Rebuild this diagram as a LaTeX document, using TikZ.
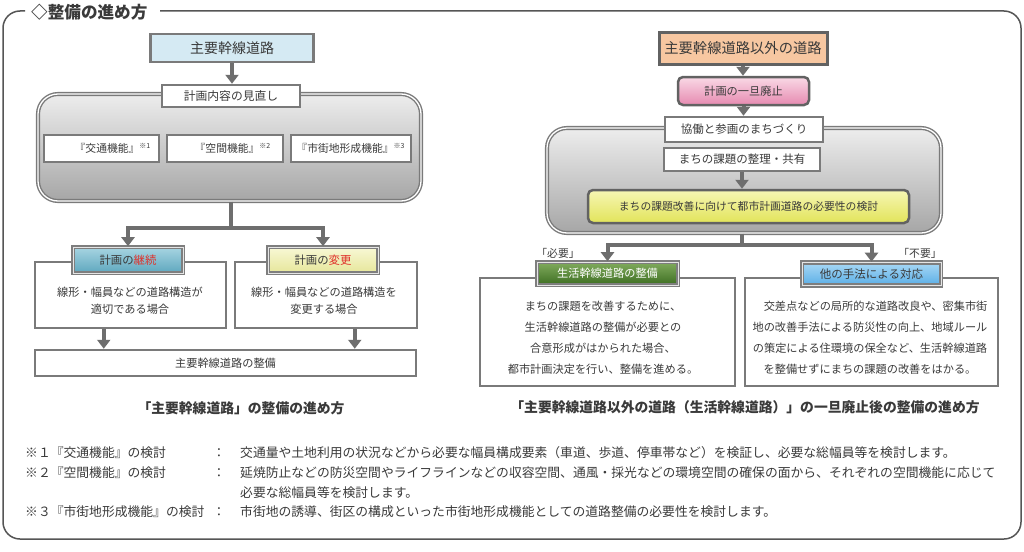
\documentclass[tikz,border=0pt]{standalone}
\usepackage{fontspec}
\setmainfont{Noto Sans CJK JP}
\usetikzlibrary{arrows.meta,calc}
\definecolor{bgray}{HTML}{7A7A7A}
\definecolor{dgray}{HTML}{626262}
\definecolor{cgray}{HTML}{6E6E6E}
\definecolor{lgray}{HTML}{7E7E7E}
\definecolor{txt}{HTML}{3A3A3A}
\definecolor{framec}{HTML}{555555}
\definecolor{lblue}{HTML}{D5EAF3}
\definecolor{orng}{HTML}{F7C7A1}
\definecolor{pkA}{HTML}{F9D9E6}
\definecolor{pkB}{HTML}{E68AB0}
\definecolor{ylA}{HTML}{F6F6B4}
\definecolor{ylB}{HTML}{E2E45A}
\definecolor{lcA}{HTML}{A8D5E2}
\definecolor{lcB}{HTML}{5EA7BE}
\definecolor{lhA}{HTML}{F8F8D6}
\definecolor{lhB}{HTML}{E6E69A}
\definecolor{grA}{HTML}{82AC5E}
\definecolor{grB}{HTML}{3D6E22}
\definecolor{blA}{HTML}{A8D8F5}
\definecolor{blB}{HTML}{5AAEE6}
\definecolor{gbA}{HTML}{EDEDED}
\definecolor{gbM}{HTML}{D6D6D6}
\definecolor{gbB}{HTML}{A6A6A6}
\definecolor{accent}{HTML}{E0302A}
\newcommand{\fsz}[1]{\fontsize{#1}{#1}\selectfont}
\newcommand{\fszb}[2]{\fontsize{#1}{#2}\selectfont}
\tikzset{
  conn/.style={draw=cgray, line width=4pt},
  arr/.style={conn, -{Triangle[width=13pt,length=9pt]}},
  wbox/.style={draw=bgray, line width=2.5pt, fill=white, inner sep=0pt},
  bigbox/.style={draw=bgray, line width=1.4pt, double=white, double distance=1.3pt,
    rounded corners=20pt, top color=gbA, middle color=gbM, bottom color=gbB, inner sep=0pt},
  lbl/.style={draw=lgray, line width=1.6pt, double=white!80!gray, double distance=1pt, inner sep=0pt},
  framel/.style={draw=framec, line width=1.5pt, rounded corners=17pt},
  every node/.style={text=txt, inner sep=0pt}
}
\begin{document}
\begin{tikzpicture}[x=1pt,y=-1pt]
\useasboundingbox (0,0) rectangle (1024,551);
\fill[white] (0,0) rectangle (1024,551);
% frame
\draw[framel] (25,11) -- (3,11) -- (3,539) -- (1021,539) -- (1021,11) -- (160,11);
\node[anchor=west, font=\fsz{16.6}\bfseries] (title) at (31,12.5) {◇整備の進め方};

% ---------------- left diagram
\node[wbox, fill=lblue, minimum width=163pt, minimum height=28pt, font=\fsz{14}] (A) at (232,48) {主要幹線道路};
\node[bigbox, minimum width=383pt, minimum height=107pt] (G1) at (229.5,147.5) {};
\node[wbox, minimum width=138pt, minimum height=22pt, font=\fsz{11.8}] (V) at (231,96) {計画内容の見直し};
\draw[arr] (A.south) -- (A.south |- V.north);

\node[wbox, minimum width=115pt, minimum height=27pt] (F1) at (101.5,148.5) {};
\node[wbox, minimum width=116pt, minimum height=27pt] (F2) at (225,148.5) {};
\node[wbox, minimum width=120pt, minimum height=27pt] (F3) at (351,148.5) {};
\node[font=\fsz{10.8}] (F1t) at (112.5,148.5) {『交通機能』\raisebox{4pt}{\fsz{7}※1}};
\node[font=\fsz{10.8}] (F2t) at (232.5,148.5) {『空間機能』\raisebox{4pt}{\fsz{7}※2}};
\node[font=\fsz{10.8}] (F3t) at (350.5,148.5) {『市街地形成機能』\raisebox{4pt}{\fsz{7}※3}};

\coordinate (jL) at (231,228);
\draw[conn] (G1.south -| jL) -- (jL);

\node[wbox, minimum width=191pt, minimum height=66pt] (L1) at (130.5,295) {};
\node[wbox, minimum width=182pt, minimum height=66pt] (L2) at (326,295) {};
\node[lbl, top color=lcA, bottom color=lcB, minimum width=110pt, minimum height=26pt, font=\fsz{11.4}] (Lc) at (128,260) {計画の\textcolor{accent}{継続}};
\node[lbl, top color=lhA, bottom color=lhB, minimum width=110pt, minimum height=26pt, font=\fsz{11.4}] (Lh) at (323,260) {計画の\textcolor{accent}{変更}};
\draw[arr] (jL) -| (Lc.north);
\draw[arr] (jL) -| (Lh.north);
\node[align=center, font=\fszb{11.2}{17}] (L1t) at (130,300.5) {線形・幅員などの道路構造が\\適切である場合};
\node[align=center, font=\fszb{11.2}{17}] (L2t) at (324,300.5) {線形・幅員などの道路構造を\\変更する場合};

\node[wbox, minimum width=381pt, minimum height=26pt, font=\fsz{11.2}] (B) at (225.5,363) {主要幹線道路の整備};
\draw[arr] ($(L1.south west)+(70,0)$) -- ($(L1.south west |- B.north)+(70,0)$);
\draw[arr] ($(L2.south west)+(121,0)$) -- ($(L2.south west |- B.north)+(121,0)$);

\node[font=\fsz{13.8}\bfseries] (capL) at (241,408) {「主要幹線道路」の整備の進め方};

% ---------------- right diagram
\node[wbox, draw=dgray, line width=3pt, fill=orng, minimum width=168pt, minimum height=31pt, font=\fsz{14.3}] (O) at (743,48.5) {主要幹線道路以外の道路};
\node[draw=dgray, line width=2.5pt, rounded corners=5pt, top color=pkA, bottom color=pkB, minimum width=131pt, minimum height=28pt, font=\fsz{11.2}] (P) at (743.5,91) {計画の一旦廃止};
\draw[arr] (O.south) -- (O.south |- P.north);
\node[bigbox, minimum width=394pt, minimum height=105pt] (G2) at (744,180.5) {};
\node[wbox, minimum width=158pt, minimum height=25pt, font=\fsz{11.5}] (K) at (744,129.5) {協働と参画のまちづくり};
\draw[arr] (P.south) -- (P.south |- K.north);
\node[wbox, minimum width=156pt, minimum height=23pt, font=\fsz{11.5}] (M) at (742,159.5) {まちの課題の整理・共有};
\node[draw=dgray, line width=2.5pt, rounded corners=5pt, top color=ylA, bottom color=ylB, minimum width=321pt, minimum height=33pt, font=\fsz{10.8}] (Y) at (748.5,206.5) {まちの課題改善に向けて都市計画道路の必要性の検討};
\draw[arr] (M.south) -- (M.south |- Y.north);

\coordinate (jR) at (742,245);
\draw[conn] (G2.south -| jR) -- (jR);

\node[wbox, minimum width=255pt, minimum height=108pt] (R1) at (607.5,332) {};
\node[wbox, minimum width=253pt, minimum height=108pt] (R2) at (871.5,332) {};
\node[lbl, top color=grA, bottom color=grB, text=white, minimum width=141pt, minimum height=23pt, font=\fsz{11.2}] (Gr) at (607.5,273.5) {生活幹線道路の整備};
\node[lbl, top color=blA, bottom color=blB, minimum width=139pt, minimum height=23pt, font=\fsz{11.5}] (Bl) at (871.5,274) {他の手法による対応};
\draw[arr] (jR) -| (Gr.north);
\draw[arr] (jR) -| (Bl.north);
\node[font=\fsz{10.8}] (nec) at (558,253) {「必要」};
\node[font=\fsz{10.8}] (unn) at (920,253) {「不要」};

\node[align=center, font=\fszb{11.2}{21}] (R1t) at (603,337.5) {まちの課題を改善するために、\\生活幹線道路の整備が必要との\\合意形成がはかられた場合、\\都市計画決定を行い、整備を進める。};
\node[align=center, font=\fszb{11.2}{21}] (R2t) at (870,337.5) {　交差点などの局所的な道路改良や、密集市街\\地の改善手法による防災性の向上、地域ルール\\の策定による住環境の保全など、生活幹線道路\\を整備せずにまちの課題の改善をはかる。};

\node[font=\fsz{13.8}\bfseries] (capR) at (745,407) {「主要幹線道路以外の道路（生活幹線道路）」の一旦廃止後の整備の進め方};

% ---------------- footnotes
\begin{scope}[every node/.append style={font=\fsz{12.8}, text=txt}]
\node[anchor=west] (n1a) at (25,453) {※１『交通機能』の検討};
\node (n1b) at (219,453) {：};
\node[anchor=west] (n1c) at (240,453) {交通量や土地利用の状況などから必要な幅員構成要素（車道、歩道、停車帯など）を検証し、必要な総幅員等を検討します。};
\node[anchor=west] (n2a) at (25,473) {※２『空間機能』の検討};
\node (n2b) at (219,473) {：};
\node[anchor=west] (n2c) at (240,473) {延焼防止などの防災空間やライフラインなどの収容空間、通風・採光などの環境空間の確保の面から、それぞれの空間機能に応じて};
\node[anchor=west] (n2d) at (240,493) {必要な総幅員等を検討します。};
\node[anchor=west] (n3a) at (25,512) {※３『市街地形成機能』の検討};
\node (n3b) at (219,512) {：};
\node[anchor=west] (n3c) at (240,512) {市街地の誘導、街区の構成といった市街地形成機能としての道路整備の必要性を検討します。};
\end{scope}
\end{tikzpicture}
\end{document}
